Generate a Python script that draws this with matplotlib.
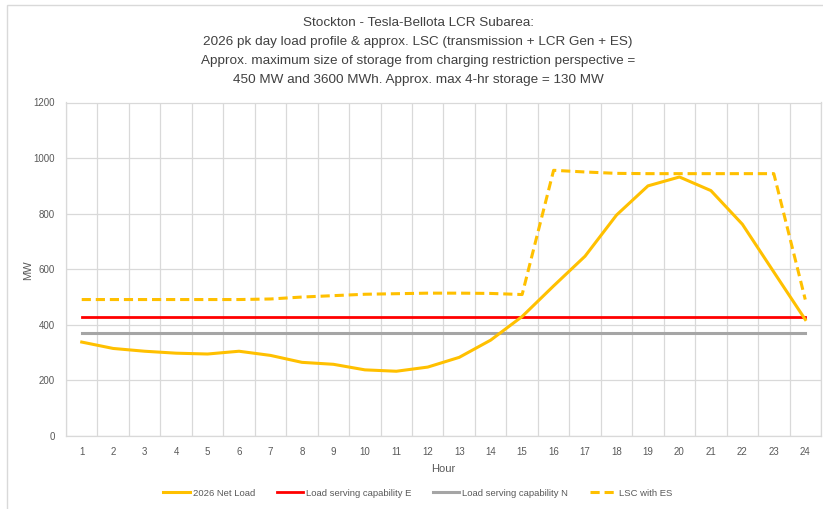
import matplotlib
matplotlib.use("Agg")
import matplotlib.pyplot as plt
from matplotlib.patches import Rectangle

plt.rcParams['font.family'] = ['Liberation Sans Narrow', 'Liberation Sans', 'DejaVu Sans']

hours = list(range(1, 25))
net_load = [338, 315, 305, 298, 295, 305, 290, 265, 258, 238, 233, 248,
            283, 345, 430, 540, 647, 795, 900, 932, 883, 762, 590, 419]
lsc_e = [427] * 24
lsc_n = [369] * 24
lsc_es = [491, 491, 491, 491, 491, 491, 493, 500, 505, 510, 512, 514,
          514, 513, 509, 956, 950, 945, 944, 944, 944, 944, 944, 491]

title_lines = ["Stockton - Tesla-Bellota LCR Subarea:",
               "2026 pk day load profile & approx. LSC (transmission + LCR Gen + ES)",
               "Approx. maximum size of storage from charging restriction perspective =",
               "450 MW and 3600 MWh. Approx. max 4-hr storage = 130 MW"]

W, H = 823, 509
fig = plt.figure(figsize=(W / 100, H / 100), dpi=100)
ax = fig.add_axes([66 / W, 1 - 436 / H, (821 - 66) / W, (436 - 102.5) / H])

# outer chart border
fig.patches.append(Rectangle((7 / W, -0.1), 1.2, 1 - 5 / H + 0.1, transform=fig.transFigure,
                             fill=False, edgecolor='#d9d9d9', linewidth=1))

gold = '#ffc000'
ax.plot(hours, net_load, color=gold, lw=2.2, label='2026 Net Load', zorder=4)
ax.plot(hours, lsc_e, color='#ff0000', lw=2.0, label='Load serving capability E', zorder=3)
ax.plot(hours, lsc_n, color='#a5a5a5', lw=2.2, label='Load serving capability N', zorder=3)
ax.plot(hours, lsc_es, color=gold, lw=2.2, ls=(0, (3, 1.6)), label='LSC with ES', zorder=4)

ax.set_xlim(0.5, 24.5)
ax.set_ylim(0, 1200)
ax.set_yticks(range(0, 1201, 200))
ax.set_xticks(hours)
ax.set_xticks([h + 0.5 for h in range(0, 25)], minor=True)
ax.grid(True, which='minor', axis='x', color='#d9d9d9', lw=0.9)
ax.grid(True, which='major', axis='y', color='#d9d9d9', lw=0.9)
ax.tick_params(which='both', length=0, labelsize=7, colors='#595959', pad=8)
for s in ax.spines.values():
    s.set_color('#d9d9d9')
    s.set_linewidth(0.9)

ax.set_xlabel('Hour', fontsize=8, color='#595959', labelpad=5)
fig.text(28 / W, 1 - 270 / H, 'MW', rotation=90, fontsize=8, color='#595959',
         ha='center', va='center')

for i, line in enumerate(title_lines):
    fig.text(418 / W, 1 - (23 + i * 19) / H, line, fontsize=9.7, color='#404040',
             ha='center', va='center')

fig.legend(loc='center', bbox_to_anchor=(418 / W, 1 - 493 / H), ncol=4, frameon=False,
           fontsize=6.8, handlelength=2.8, columnspacing=2.3, handletextpad=0.3,
           labelcolor='#595959')

fig.savefig('out.png', dpi=100)
